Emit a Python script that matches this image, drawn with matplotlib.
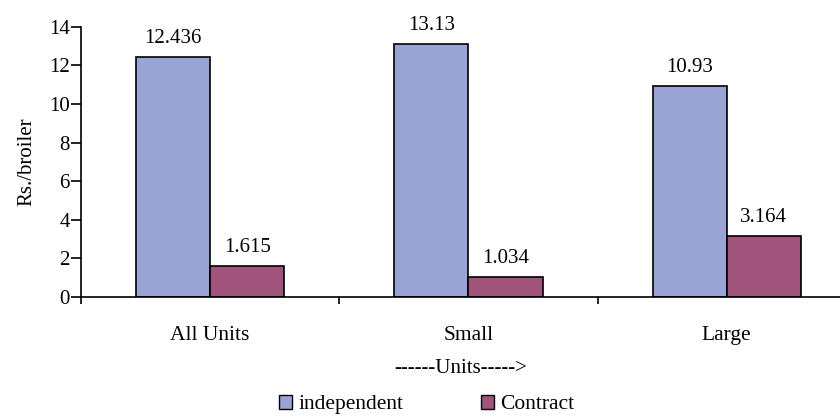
import numpy as np
from matplotlib import pyplot as plt
from matplotlib.patches import Patch

categories = ['All Units', 'Small', 'Large']
independent = [12.436, 13.13, 10.93]
contract = [1.615, 1.034, 3.164]
independent_labels = ['12.436', '13.13', '10.93']
contract_labels = ['1.615', '1.034', '3.164']

plt.rcParams['font.family'] = ['Liberation Serif', 'DejaVu Serif']
plt.rcParams['font.size'] = 15

blue = '#9AA4D4'
maroon = '#A0537B'

fig = plt.figure(figsize=(8.4, 4.17), dpi=100)
ax = fig.add_axes([0.0964, 0.288, 0.904, 0.6475])

x = np.arange(len(categories))
w = 0.287
ax.bar(x - w / 2, independent, w, color=blue, edgecolor='black', linewidth=1.2)
ax.bar(x + w / 2, contract, w, color=maroon, edgecolor='black', linewidth=1.2)

for xi, v, s in zip(x, independent, independent_labels):
    ax.text(xi - w / 2, v + 0.45, s, ha='center', va='bottom')
for xi, v, s in zip(x, contract, contract_labels):
    ax.text(xi + w / 2, v + 0.45, s, ha='center', va='bottom')

ax.set_xlim(-0.5, 2.44)
ax.set_ylim(0, 14)
ax.set_yticks(range(0, 15, 2))
ax.set_xticks([-0.5, 0.5, 1.5])
ax.set_xticklabels([])
ax.set_xticks(x, minor=True)
ax.set_xticklabels(categories, minor=True, fontsize=15.5)
ax.tick_params(axis='x', which='minor', length=0, pad=21)
ax.tick_params(axis='x', which='major', direction='out', length=5, width=1.2)
ax.tick_params(axis='y', direction='out', length=7, width=1.2, pad=1)

for side in ['top', 'right']:
    ax.spines[side].set_visible(False)
ax.spines['left'].set_linewidth(1.2)
ax.spines['bottom'].set_linewidth(1.2)

ax.set_ylabel('Rs./broiler', labelpad=9)
ax.set_xlabel('------Units----->', labelpad=10)

handles = [Patch(facecolor=blue, edgecolor='black', label='independent'),
           Patch(facecolor=maroon, edgecolor='black', label='Contract')]
fig.legend(handles=handles, loc='lower center', bbox_to_anchor=(0.508, -0.04),
           ncol=2, frameon=False, fontsize=15.5, handlelength=0.6,
           handleheight=0.6, handletextpad=0.3, columnspacing=3.6)

fig.savefig('out.png', dpi=100)
